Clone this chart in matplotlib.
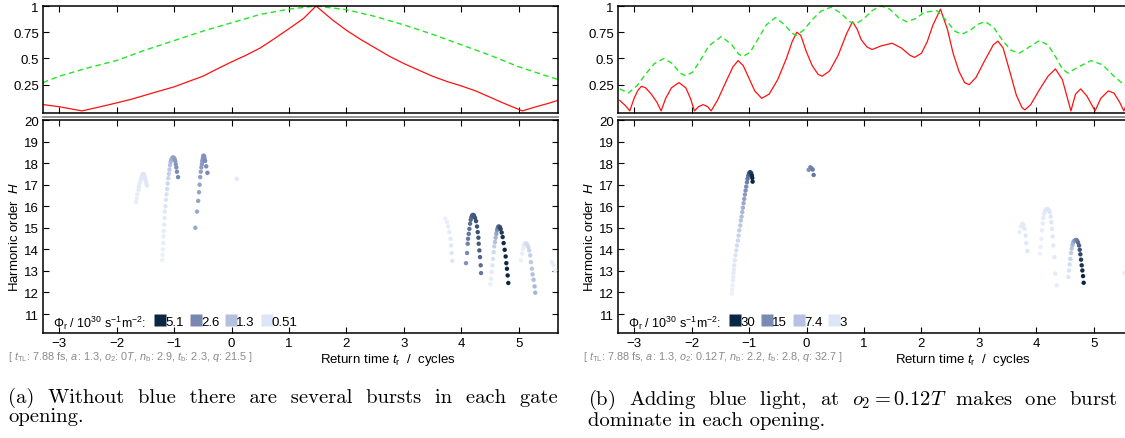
import matplotlib
matplotlib.use('Agg')
import matplotlib.pyplot as plt
from matplotlib.colors import LinearSegmentedColormap
from matplotlib.lines import Line2D

plt.rcParams['font.family'] = ['Liberation Sans', 'DejaVu Sans']
plt.rcParams['mathtext.fontset'] = 'custom'
plt.rcParams['mathtext.rm'] = 'Liberation Sans'
plt.rcParams['mathtext.it'] = 'Liberation Sans:italic'
plt.rcParams['mathtext.bf'] = 'Liberation Sans:bold'

# ---- top panels: gate curves ----
a_red_x = [-3.28, -3.0, -2.8, -2.6, -2.4, -2.2, -2.0, -1.75, -1.5, -1.25, -1.0, -0.75, -0.5, -0.25,
           0.0, 0.25, 0.5, 0.75, 1.0, 1.25, 1.47, 1.75, 2.0, 2.25, 2.5, 2.75, 3.0, 3.25, 3.5, 3.75,
           4.0, 4.25, 4.5, 4.75, 5.06, 5.3, 5.5, 5.68]
a_red_y = [0.06, 0.04, 0.02, 0.0, 0.025, 0.05, 0.076, 0.11, 0.15, 0.19, 0.229, 0.28, 0.33, 0.40,
           0.467, 0.53, 0.60, 0.69, 0.784, 0.88, 1.0, 0.87, 0.768, 0.68, 0.60, 0.52, 0.451, 0.39, 0.33, 0.28,
           0.238, 0.19, 0.13, 0.07, 0.0, 0.04, 0.07, 0.10]
a_green_x = [-3.28, -3.0, -2.5, -2.0, -1.5, -1.0, -0.5, 0.0, 0.5, 1.0, 1.47, 2.0, 2.5, 3.0, 3.5,
             4.0, 4.5, 5.0, 5.5, 5.68]
a_green_y = [0.27, 0.33, 0.41, 0.48, 0.58, 0.67, 0.76, 0.84, 0.92, 0.97, 1.0, 0.965, 0.90, 0.82, 0.73,
             0.63, 0.53, 0.42, 0.33, 0.30]

b_red_x = [-3.25, -3.15, -3.075, -3.0, -2.93, -2.87, -2.8, -2.7, -2.6, -2.53, -2.45, -2.35, -2.22,
           -2.1, -2.02, -1.95, -1.88, -1.8, -1.72, -1.66, -1.55, -1.4, -1.28, -1.19, -1.1, -1.0, -0.9,
           -0.78, -0.65, -0.5, -0.35, -0.25, -0.17, -0.1, 0.0, 0.1, 0.2, 0.27, 0.4, 0.55, 0.7, 0.8,
           0.88, 0.95, 1.05, 1.14, 1.3, 1.49, 1.65, 1.8, 1.88, 2.0, 2.1, 2.2, 2.33, 2.45, 2.55, 2.65,
           2.75, 2.83, 2.95, 3.1, 3.25, 3.33, 3.42, 3.55, 3.65, 3.75, 3.8, 3.9, 4.05, 4.2, 4.33, 4.45,
           4.55, 4.6, 4.68, 4.77, 4.88, 4.97, 5.02, 5.12, 5.25, 5.35, 5.45, 5.52, 5.6, 5.68]
b_red_y = [0.10, 0.05, 0.0, 0.12, 0.20, 0.235, 0.22, 0.16, 0.08, 0.0, 0.12, 0.22, 0.27,
           0.22, 0.12, 0.0, 0.04, 0.06, 0.04, 0.0, 0.10, 0.28, 0.42, 0.48, 0.43, 0.31, 0.19,
           0.12, 0.16, 0.30, 0.50, 0.66, 0.75, 0.72, 0.56, 0.43, 0.35, 0.33, 0.38, 0.53, 0.74, 0.85,
           0.78, 0.68, 0.61, 0.585, 0.62, 0.645, 0.60, 0.53, 0.51, 0.55, 0.66, 0.82, 0.97, 0.78, 0.55, 0.38,
           0.27, 0.25, 0.32, 0.48, 0.63, 0.665, 0.60, 0.35, 0.15, 0.03, 0.01, 0.06, 0.20, 0.33, 0.40, 0.30,
           0.10, 0.0, 0.16, 0.21, 0.14, 0.05, 0.0, 0.12, 0.19, 0.17, 0.08, 0.0, 0.10, 0.16]
b_green_x = [-3.25, -3.1, -2.95, -2.8, -2.65, -2.48, -2.33, -2.2, -2.1, -1.98, -1.85, -1.7, -1.48,
             -1.3, -1.18, -1.1, -0.98, -0.85, -0.7, -0.54, -0.38, -0.25, -0.18, -0.05, 0.1, 0.25,
             0.43, 0.6, 0.75, 0.86, 1.0, 1.15, 1.3, 1.45, 1.6, 1.74, 1.9, 2.05, 2.27, 2.45, 2.58,
             2.7, 2.85, 3.0, 3.11, 3.25, 3.4, 3.55, 3.7, 3.85, 4.05, 4.2, 4.35, 4.45, 4.55, 4.7,
             4.95, 5.15, 5.35, 5.5, 5.68]
b_green_y = [0.21, 0.17, 0.24, 0.35, 0.45, 0.50, 0.45, 0.36, 0.335, 0.37, 0.48, 0.62, 0.71,
             0.63, 0.54, 0.52, 0.56, 0.68, 0.82, 0.89, 0.82, 0.74, 0.72, 0.77, 0.87, 0.95,
             0.99, 0.93, 0.85, 0.83, 0.88, 0.96, 1.0, 0.97, 0.89, 0.85, 0.88, 0.94, 0.955, 0.85, 0.76,
             0.73, 0.77, 0.83, 0.85, 0.80, 0.68, 0.58, 0.55, 0.60, 0.67, 0.63, 0.50, 0.40, 0.36, 0.41,
             0.48, 0.44, 0.33, 0.26, 0.20]

# ---- bottom panels: harmonic order vs return time, flux in 1e30 s^-1 m^-2 ----
# (a) without blue
a1_x = [-1.66, -1.65, -1.64, -1.62, -1.61, -1.60, -1.58, -1.57, -1.56, -1.55, -1.54, -1.53, -1.52,
        -1.51, -1.50, -1.49, -1.48, -1.47]
a1_y = [16.2, 16.35, 16.55, 16.75, 16.9, 17.05, 17.2, 17.3, 17.4, 17.45, 17.5, 17.48, 17.42,
        17.35, 17.25, 17.15, 17.05, 16.95]
a1_f = [0.25, 0.28, 0.3, 0.32, 0.35, 0.37, 0.4, 0.42, 0.45, 0.47, 0.5, 0.5, 0.5, 0.48, 0.46, 0.44, 0.42, 0.4]

a2_x = [-1.205, -1.200, -1.195, -1.190, -1.185, -1.180, -1.170, -1.165, -1.160, -1.150, -1.140, -1.130,
        -1.120, -1.110, -1.100, -1.090, -1.080, -1.070, -1.060, -1.050, -1.035, -1.020, -1.005, -0.990,
        -0.980, -0.970, -0.960, -0.950, -0.930]
a2_y = [13.50, 13.75, 14.00, 14.30, 14.60, 14.85, 15.15, 15.45, 15.75, 16.00, 16.30, 16.55, 16.80,
        17.05, 17.30, 17.50, 17.70, 17.90, 18.05, 18.15, 18.22, 18.27, 18.25, 18.20, 18.10, 17.95,
        17.80, 17.60, 17.35]
a2_f = [0.2, 0.22, 0.25, 0.28, 0.3, 0.33, 0.36, 0.4, 0.45, 0.5, 0.55, 0.6, 0.7, 0.8, 0.9, 1.0,
        1.15, 1.3, 1.45, 1.6, 1.75, 1.9, 2.0, 2.1, 2.2, 2.3, 2.4, 2.5, 2.6]

a3_x = [-0.630, -0.600, -0.580, -0.565, -0.555, -0.545, -0.535, -0.525, -0.515, -0.510, -0.500,
        -0.495, -0.490, -0.485, -0.475, -0.470, -0.460, -0.440, -0.420, 0.09]
a3_y = [15.00, 15.75, 16.25, 16.65, 17.00, 17.35, 17.60, 17.80, 17.95, 18.10, 18.20, 18.28, 18.33,
        18.35, 18.30, 18.20, 18.10, 17.85, 17.55, 17.27]
a3_f = [1.9, 1.9, 2.0, 2.0, 2.0, 2.1, 2.1, 2.1, 2.2, 2.2, 2.2, 2.3, 2.3, 2.3, 2.4, 2.4, 2.5, 2.5, 2.6, 0.4]

a4_x = [3.72, 3.75, 3.77, 3.79, 3.81, 3.82, 3.83, 3.84]
a4_y = [15.42, 15.26, 15.06, 14.80, 14.49, 14.18, 13.83, 13.46]
a4_f = [0.2, 0.25, 0.3, 0.35, 0.4, 0.45, 0.5, 0.5]

a5_x = [4.080, 4.098, 4.109, 4.115, 4.127, 4.138, 4.150, 4.161, 4.173, 4.185, 4.202, 4.219, 4.237,
        4.254, 4.271, 4.283, 4.295, 4.300, 4.312, 4.323, 4.335, 4.341]
a5_y = [13.36, 13.83, 14.26, 14.49, 14.72, 14.95, 15.19, 15.37, 15.49, 15.57, 15.60, 15.57, 15.46,
        15.31, 15.06, 14.80, 14.54, 14.26, 13.95, 13.64, 13.26, 12.90]
a5_f = [2.4, 2.6, 2.8, 3.0, 3.1, 3.2, 3.3, 3.4, 3.5, 3.6, 3.7, 3.8, 3.9, 4.0, 4.0, 4.0, 3.9, 3.8,
        3.7, 3.5, 3.3, 3.0]

a6_x = [4.503, 4.514, 4.526, 4.538, 4.549, 4.561, 4.572, 4.584, 4.595, 4.607, 4.619, 4.630, 4.642,
        4.653, 4.671, 4.682, 4.700, 4.717, 4.734, 4.752, 4.769, 4.781, 4.792, 4.804, 4.815]
a6_y = [12.38, 12.64, 12.95, 13.26, 13.56, 13.87, 14.14, 14.34, 14.54, 14.72, 14.88, 14.98, 15.05,
        15.06, 15.03, 14.94, 14.78, 14.57, 14.29, 13.98, 13.67, 13.36, 13.10, 12.79, 12.44]
a6_f = [0.2, 0.3, 0.4, 0.5, 0.6, 0.8, 1.0, 1.3, 1.6, 2.0, 2.4, 2.8, 3.2, 3.6, 4.0, 4.3, 4.6, 4.8,
        5.0, 5.1, 5.1, 5.1, 5.1, 5.1, 5.1]

a7_x = [5.035, 5.053, 5.070, 5.087, 5.105, 5.122, 5.145, 5.163, 5.180, 5.197, 5.209, 5.226, 5.238,
        5.255, 5.273, 5.284, 5.573, 5.602, 5.631]
a7_y = [13.49, 13.80, 14.03, 14.18, 14.26, 14.29, 14.23, 14.11, 13.95, 13.72, 13.41, 13.10, 12.84,
        12.59, 12.28, 11.99, 13.41, 13.26, 13.02]
a7_f = [0.2, 0.25, 0.3, 0.4, 0.5, 0.6, 0.7, 0.8, 0.9, 1.0, 1.1, 1.2, 1.3, 1.4, 1.5, 1.6, 0.3, 0.3, 0.3]

# (b) with blue
b1_x = [-1.298, -1.293, -1.287, -1.281, -1.275, -1.270, -1.264, -1.258, -1.246, -1.235, -1.223,
        -1.211, -1.194, -1.182, -1.171, -1.153, -1.142, -1.130, -1.118, -1.107, -1.095, -1.084,
        -1.072, -1.060, -1.049, -1.037, -1.026, -1.014, -1.002, -0.991, -0.979, -0.962, -0.950,
        -0.944, -0.938]
b1_y = [11.94, 12.13, 12.33, 12.56, 12.72, 12.90, 13.06, 13.26, 13.49, 13.72, 13.95, 14.18, 14.41,
        14.64, 14.88, 15.11, 15.34, 15.52, 15.73, 15.93, 16.14, 16.34, 16.54, 16.73, 16.91, 17.11,
        17.27, 17.41, 17.50, 17.56, 17.58, 17.53, 17.42, 17.31, 17.14]
b1_f = [1.0, 1.2, 1.4, 1.6, 1.8, 2.0, 2.3, 2.6, 3.0, 3.4, 3.8, 4.3, 4.8, 5.4, 6.0, 6.7, 7.4, 8.2,
        9.0, 10, 11, 12, 13, 14, 15, 16.5, 18, 19.5, 21, 23, 25, 27, 29, 30, 30]

b2_x = [0.037, 0.066, 0.084, 0.107, 0.124]
b2_y = [17.69, 17.81, 17.76, 17.70, 17.45]
b2_f = [14, 15, 16, 17, 18]

b3_x = [3.707, 3.731, 3.754, 3.777, 3.794, 3.812, 3.823, 3.841, 5.525]
b3_y = [14.80, 15.06, 15.19, 15.14, 14.95, 14.64, 14.29, 13.92, 12.90]
b3_f = [1.5, 1.8, 2.0, 2.2, 2.4, 2.6, 2.8, 3.0, 1.5]

b4_x = [4.062, 4.073, 4.085, 4.096, 4.108, 4.120, 4.131, 4.149, 4.166, 4.189, 4.213, 4.230, 4.247,
        4.259, 4.271, 4.282, 4.294, 4.311, 4.329, 4.352]
b4_y = [13.80, 14.11, 14.49, 14.88, 15.19, 15.46, 15.65, 15.77, 15.85, 15.88, 15.83, 15.73, 15.52,
        15.26, 14.95, 14.60, 14.18, 13.64, 12.87, 12.33]
b4_f = [1.0, 1.2, 1.4, 1.6, 1.8, 2.0, 2.2, 2.4, 2.6, 2.8, 3.0, 3.0, 3.0, 3.0, 2.8, 2.6, 2.4, 2.2, 2.0, 1.8]

b5_x = [4.555, 4.567, 4.578, 4.590, 4.602, 4.613, 4.625, 4.636, 4.648, 4.666, 4.689, 4.706, 4.723,
        4.741, 4.753, 4.764, 4.776, 4.787, 4.799, 4.811, 4.822]
b5_y = [12.72, 13.02, 13.30, 13.56, 13.83, 14.03, 14.18, 14.29, 14.37, 14.41, 14.44, 14.41, 14.32,
        14.18, 13.98, 13.77, 13.52, 13.26, 13.02, 12.76, 12.45]
b5_f = [3, 3.5, 4, 5, 6, 7, 8, 9.5, 11, 13, 15, 17, 19, 21, 23, 25, 27, 28, 29, 30, 30]

a_legend = [5.1, 2.6, 1.3, 0.51]
b_legend = [30, 15, 7.4, 3]
a_params = r"[ $t_{\rm TL}$: 7.88 fs, $a$: 1.3, $o_2$: 0$T$, $n_{\rm b}$: 2.9, $t_{\rm b}$: 2.3, $q$: 21.5 ]"
b_params = r"[ $t_{\rm TL}$: 7.88 fs, $a$: 1.3, $o_2$: 0.12$T$, $n_{\rm b}$: 2.2, $t_{\rm b}$: 2.8, $q$: 32.7 ]"
# double spaces on the first line stand in for LaTeX justification
a_caption = "(a)  Without  blue  there  are  several  bursts  in  each  gate\nopening."
b_caption = "(b)  Adding  blue  light,  at  $o_2 = 0.12T$  makes  one  burst\ndominate in each opening."

xticks = [-3, -2, -1, 0, 1, 2, 3, 4, 5]
xlim = (-3.28, 5.68)

cmap = LinearSegmentedColormap.from_list(
    'flux', [(0, '#f3f6fd'), (0.1, '#dde6f6'), (0.25, '#b4c2e0'), (0.5, '#7a8ab5'), (1, '#0a2642')])

W, H = 1125., 439.
fig = plt.figure(figsize=(11.25, 4.39), dpi=100)


def style(ax):
    ax.tick_params(direction='in', top=True, right=True, length=4, width=0.8, labelsize=9.5, pad=3)
    for s in ax.spines.values():
        s.set_linewidth(1.1)
    ax.set_xlim(*xlim)
    ax.set_xticks(xticks)


def panel(left, red_x, red_y, green_x, green_y, xs, ys, fs, vmax, leg, params, caption, cap_dx):
    w = 515 / W
    top = fig.add_axes([left / W, 1 - 114 / H, w, 107 / H])
    top.plot(red_x, red_y, color='#ff1010', lw=0.9)
    top.plot(green_x, green_y, color='#22e622', lw=1.0, dashes=(4, 2.6))
    style(top)
    top.set_ylim(-0.02, 1.0)
    top.set_yticks([0.25, 0.5, 0.75, 1])
    top.set_yticklabels(['0.25', '0.5', '0.75', '1'])
    top.set_xticklabels([])

    fig.add_artist(Line2D([left / W, (left + 515) / W], [1 - 118 / H] * 2, color='#8c8c8c', lw=1.3))

    ax = fig.add_axes([left / W, 1 - 334 / H, w, 213 / H])
    for x, y, f in zip(xs, ys, fs):
        ax.scatter(x, y, c=f, cmap=cmap, vmin=0, vmax=vmax, s=10, linewidths=0, zorder=3)
    style(ax)
    ax.set_ylim(10.12, 20)
    ax.set_yticks(range(11, 21))
    ax.set_xlabel(r"Return time $t_{\rm r}$  /  cycles", fontsize=9.5)
    ax.xaxis.set_label_coords(0.67, -0.085)
    ax.set_ylabel(r"Harmonic order  $H$", fontsize=9.5)
    ax.yaxis.set_label_coords(-0.043, 0.455)

    ax.text(0.02, 0.052, r"Φ$_{\rm r}$ / 10$^{30}$ s$^{-1}$m$^{-2}$:", transform=ax.transAxes,
            fontsize=9, va='center', ha='left')
    handles = [Line2D([], [], ls='none', marker='s', ms=8.5, mec='none', mfc=cmap(v / vmax)) for v in leg]
    ax.legend(handles, [('%g' % v) for v in leg], ncol=4, loc='center left',
              bbox_to_anchor=(0.218, 0.052), frameon=False, fontsize=9.5, handlelength=0.7,
              handletextpad=0.05, columnspacing=0.55, borderpad=0, borderaxespad=0)

    fig.text((left - 35) / W, 1 - 357 / H, params, fontsize=7.8, color='#8a8a8a', va='center', ha='left')
    fig.text((left + cap_dx) / W, 1 - 388 / H, caption, fontsize=14.8, family='cmr10', math_fontfamily='cm',
             va='top', ha='left', linespacing=1.0)


panel(43, a_red_x, a_red_y, a_green_x, a_green_y,
      [a1_x, a2_x, a3_x, a4_x, a5_x, a6_x, a7_x],
      [a1_y, a2_y, a3_y, a4_y, a5_y, a6_y, a7_y],
      [a1_f, a2_f, a3_f, a4_f, a5_f, a6_f, a7_f], 5.1, a_legend, a_params, a_caption, -35)
panel(618, b_red_x, b_red_y, b_green_x, b_green_y,
      [b1_x, b2_x, b3_x, b4_x, b5_x],
      [b1_y, b2_y, b3_y, b4_y, b5_y],
      [b1_f, b2_f, b3_f, b4_f, b5_f], 30, b_legend, b_params, b_caption, -30)

fig.savefig('out.png', dpi=100)
